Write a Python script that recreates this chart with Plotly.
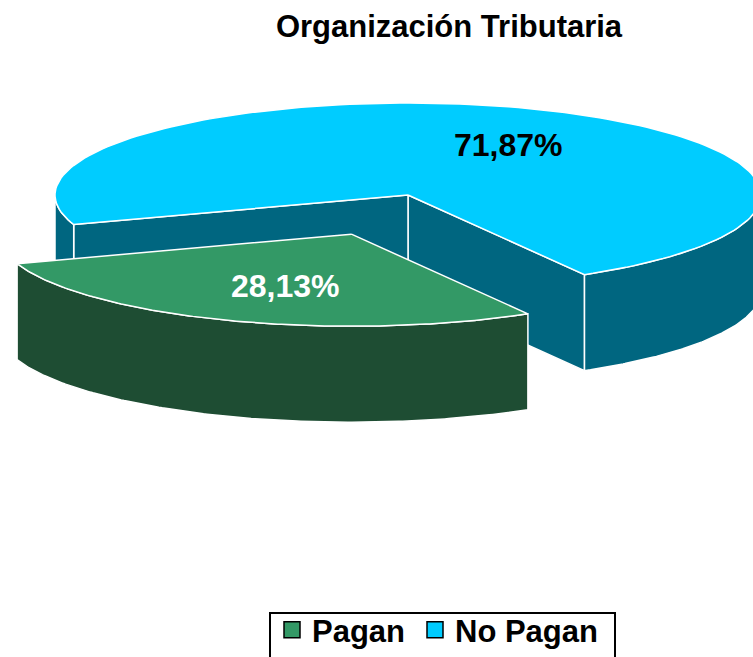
import numpy as np
import plotly.graph_objects as go

# ---- data ----
categories = ["Pagan", "No Pagan"]
values = [28.13, 71.87]
label_text = ["28,13%", "71,87%"]

# ---- style / geometry ----
top_colors = ["#339966", "#00CCFF"]
side_colors = ["#1E4D33", "#006680"]
label_colors = ["white", "black"]
W, H = 753, 657
CX, CY = 408, 195          # pie centre (px)
RX, RY = 353, 92           # ellipse radii (px)
DEPTH = 96                 # pie thickness (px)
START = 300.0              # first slice starts here (math degrees), clockwise
EXPLODE = [0.455, 0.0]
LABEL_F = [(0.53, 0.60), (0.81, 0.58)]
LEGEND_W = [98, None]
FONT = "Liberation Sans, Arial, sans-serif"


def pt(ox, oy, th, dz=0.0):
    r = np.radians(th)
    return ox + RX * np.cos(r), oy - RY * np.sin(r) + dz


def arc(ox, oy, a0, a1, dz=0.0, n=160):
    th = np.linspace(a0, a1, n)
    x, y = pt(ox, oy, th, dz)
    return list(x), list(y)


total = sum(values)
slices = []
a = START
for i, v in enumerate(values):
    span = 360.0 * v / total
    lo, hi = a - span, a
    bis = (lo + hi) / 2
    e = EXPLODE[i]
    ox = CX + e * RX * np.cos(np.radians(bis))
    oy = CY - e * RY * np.sin(np.radians(bis))
    slices.append(dict(i=i, lo=lo, hi=hi, bis=bis, ox=ox, oy=oy))
    a = lo

fig = go.Figure()


def poly(xs, ys, color):
    fig.add_trace(go.Scatter(
        x=xs + [xs[0]], y=ys + [ys[0]], mode="lines", fill="toself",
        fillcolor=color, line=dict(color="white", width=1.5),
        hoverinfo="skip", showlegend=False))


for s in sorted(slices, key=lambda s: s["oy"]):
    i, lo, hi, ox, oy = s["i"], s["lo"], s["hi"], s["ox"], s["oy"]
    side = side_colors[i]
    # radial walls
    for th, normal in ((lo, lo - 90), (hi, hi + 90)):
        if np.sin(np.radians(normal)) < 0:
            ex, ey = pt(ox, oy, th)
            poly([ox, ex, ex, ox], [oy, ey, ey + DEPTH, oy + DEPTH], side)
    # curved outer wall (front half only)
    for k in (-1, 0, 1):
        f0, f1 = 180 + 360 * k, 360 + 360 * k
        a0, a1 = max(lo, f0), min(hi, f1)
        if a1 > a0:
            tx, ty = arc(ox, oy, a0, a1)
            bx, by = arc(ox, oy, a1, a0, DEPTH)
            poly(tx + bx, ty + by, side)
    # top face
    tx, ty = arc(ox, oy, lo, hi)
    poly([ox] + tx, [oy] + ty, top_colors[i])
    # label
    fx, fy = LABEL_F[i]
    lx = ox + fx * RX * np.cos(np.radians(s["bis"]))
    ly = oy - fy * RY * np.sin(np.radians(s["bis"]))
    fig.add_annotation(x=lx, y=ly, text=label_text[i], showarrow=False,
                       font=dict(family=FONT, size=32, color=label_colors[i],
                                 weight="bold"))

# legend entries
for i, c in enumerate(categories):
    fig.add_trace(go.Scatter(
        x=[None], y=[None], mode="markers", name=c,
        legendwidth=LEGEND_W[i],
        marker=dict(symbol="square", size=16, color=top_colors[i],
                    line=dict(color="black", width=1.5))))

# legend frame (bottom edge runs off the page, as in the original)
fig.add_shape(type="path", xref="x", yref="y",
              path=f"M270,{H + 5} L270,613 L615,613 L615,{H + 5}",
              line=dict(color="black", width=2), layer="above")

fig.update_layout(
    width=W, height=H, autosize=False,
    margin=dict(l=0, r=0, t=0, b=0),
    paper_bgcolor="white", plot_bgcolor="white",
    xaxis=dict(range=[0, W], visible=False, fixedrange=True),
    yaxis=dict(range=[H, 0], visible=False, fixedrange=True),
    title=dict(text="Organización Tributaria", x=449 / W, xanchor="center",
               y=1 - 26 / H, yref="container", yanchor="middle",
               font=dict(family=FONT, size=31, color="black", weight="bold")),
    legend=dict(orientation="h", x=272 / W, xanchor="left",
                y=0, yanchor="bottom", bgcolor="rgba(0,0,0,0)",
                borderwidth=0,
                font=dict(family=FONT, size=31, color="black", weight="bold")),
    showlegend=True,
)

fig.write_html("out.html", config={"displayModeBar": False},
               post_script="document.body.style.margin='0px';"
                           "document.body.style.overflow='hidden';")
